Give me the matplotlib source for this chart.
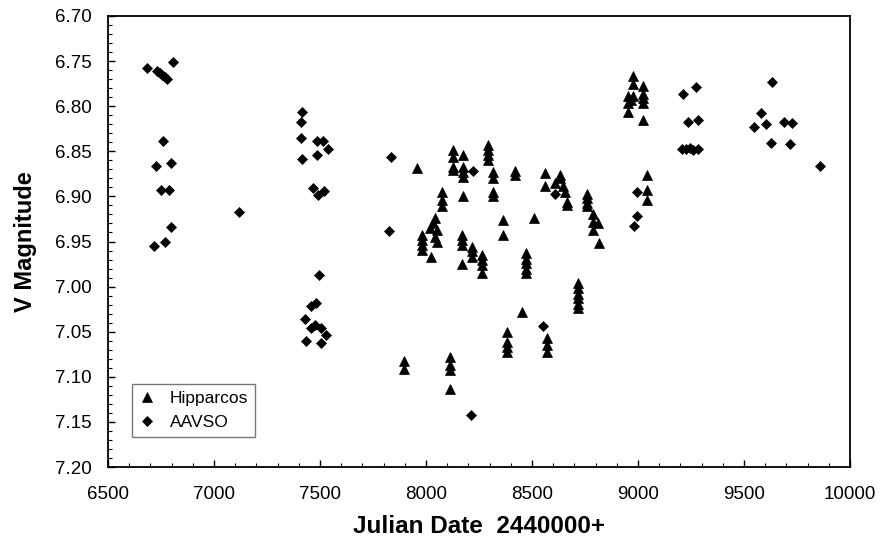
import matplotlib
matplotlib.use("Agg")
import matplotlib.pyplot as plt
from matplotlib.ticker import MultipleLocator, FormatStrFormatter

plt.rcParams['font.family'] = ['Liberation Sans', 'DejaVu Sans']

hip_jd = [7959, 7896, 7896, 8113, 8113, 8113, 8113,
          7979, 7979, 7979, 7979, 8019, 8022, 8034, 8042, 8042, 8050, 8050,
          8074, 8074, 8074, 8126, 8126, 8126, 8126,
          8169, 8169, 8169, 8169, 8176, 8176, 8176, 8176, 8176,
          8215, 8215, 8215, 8266, 8266, 8266, 8266,
          8294, 8294, 8294, 8294, 8317, 8317, 8317, 8317,
          8361, 8361, 8383, 8383, 8383, 8383, 8420, 8420, 8451,
          8470, 8470, 8470, 8470, 8470, 8509, 8561, 8561,
          8572, 8572, 8572, 8608, 8632, 8632, 8645, 8656, 8663, 8663,
          8719, 8719, 8719, 8719, 8719, 8719,
          8761, 8761, 8761, 8761, 8786, 8790, 8790, 8813, 8816,
          8951, 8955, 8955, 8965, 8975, 8975, 8975,
          9022, 9022, 9022, 9022, 9022, 9044, 9044, 9044]
hip_mag = [6.869, 7.083, 7.091, 7.078, 7.087, 7.093, 7.113,
           6.943, 6.948, 6.954, 6.959, 6.935, 6.967, 6.930, 6.924, 6.945, 6.937, 6.950,
           6.895, 6.904, 6.911, 6.849, 6.856, 6.867, 6.871,
           6.943, 6.948, 6.954, 6.975, 6.854, 6.867, 6.873, 6.878, 6.900,
           6.956, 6.961, 6.967, 6.965, 6.971, 6.976, 6.985,
           6.843, 6.849, 6.854, 6.860, 6.873, 6.880, 6.895, 6.900,
           6.926, 6.943, 7.050, 7.061, 7.067, 7.072, 6.872, 6.876, 7.028,
           6.963, 6.969, 6.974, 6.980, 6.985, 6.924, 6.874, 6.889,
           7.057, 7.065, 7.072, 6.885, 6.876, 6.880, 6.889, 6.895, 6.906, 6.910,
           6.996, 7.002, 7.008, 7.013, 7.019, 7.024,
           6.897, 6.902, 6.907, 6.911, 6.919, 6.928, 6.937, 6.930, 6.952,
           6.806, 6.789, 6.797, 6.793, 6.767, 6.775, 6.789,
           6.778, 6.786, 6.791, 6.797, 6.815, 6.876, 6.893, 6.904]

aav_jd = [6682, 6733, 6745, 6756, 6768, 6780, 6808,
          6761, 6726, 6796, 6748, 6789, 6796, 6769, 6718, 7120,
          7414, 7412, 7412, 7487, 7513, 7536, 7484, 7417, 7469, 7492, 7520,
          7497, 7456, 7481, 7429, 7476, 7456, 7503, 7528, 7432, 7503,
          7835, 7827, 8223, 8211, 8553, 8608,
          8994, 8994, 8983,
          9214, 9272, 9237, 9281, 9206, 9226, 9245, 9261, 9284,
          9633, 9580, 9546, 9604, 9690, 9725, 9626, 9717, 9858]
aav_mag = [6.758, 6.761, 6.763, 6.765, 6.768, 6.770, 6.751,
           6.839, 6.866, 6.863, 6.893, 6.893, 6.934, 6.951, 6.955, 6.917,
           6.806, 6.818, 6.835, 6.839, 6.839, 6.847, 6.854, 6.859, 6.891, 6.898, 6.894,
           6.987, 7.021, 7.018, 7.036, 7.043, 7.046, 7.046, 7.054, 7.060, 7.062,
           6.856, 6.938, 6.872, 7.142, 7.044, 6.897,
           6.895, 6.922, 6.933,
           6.786, 6.779, 6.818, 6.815, 6.847, 6.847, 6.846, 6.849, 6.848,
           6.773, 6.808, 6.823, 6.820, 6.818, 6.819, 6.841, 6.842, 6.866]

fig = plt.figure(figsize=(8.81, 5.46), dpi=100)
ax = fig.add_axes([108/881, 1-467/546, 742/881, 451/546])

ax.plot(hip_jd, hip_mag, linestyle='none', marker='^', ms=6.5, color='black',
        markeredgewidth=0.5, label='Hipparcos')
ax.plot(aav_jd, aav_mag, linestyle='none', marker='D', ms=5, color='black',
        markeredgewidth=0.5, label='AAVSO')

ax.set_xlim(6500, 10000)
ax.set_ylim(7.20, 6.70)
ax.xaxis.set_major_locator(MultipleLocator(500))
ax.xaxis.set_minor_locator(MultipleLocator(100))
ax.yaxis.set_major_locator(MultipleLocator(0.05))
ax.yaxis.set_minor_locator(MultipleLocator(0.01))
ax.yaxis.set_major_formatter(FormatStrFormatter('%.2f'))

ax.tick_params(axis='both', which='major', direction='in', length=5, width=1,
               labelsize=13.5, top=False, right=False)
ax.tick_params(axis='both', which='minor', direction='in', length=3, width=0.8,
               top=False, right=False)
ax.tick_params(axis='x', which='major', pad=14)
ax.tick_params(axis='y', which='major', pad=12)
for s in ax.spines.values():
    s.set_linewidth(1.3)

ax.set_xlabel('Julian Date  2440000+', fontsize=17.5, fontweight='bold', labelpad=8)
ax.set_ylabel('V Magnitude', fontsize=17, fontweight='bold', labelpad=13)

leg = ax.legend(loc='lower left', bbox_to_anchor=(0.032, 0.066), borderaxespad=0,
                fancybox=False, edgecolor='#555555', fontsize=12.5,
                handlelength=1.0, handletextpad=0.8, borderpad=0.4, labelspacing=0.5)
leg.get_frame().set_linewidth(1.0)

fig.savefig('out.png', dpi=100)
